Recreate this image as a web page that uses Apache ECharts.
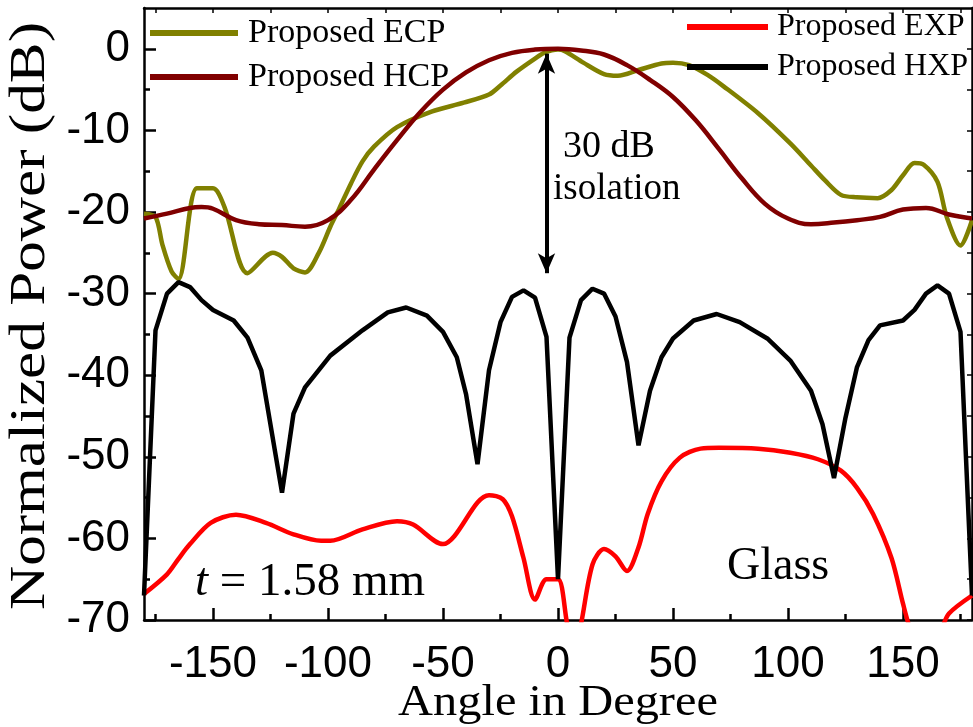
<!DOCTYPE html>
<html>
<head>
<meta charset="utf-8">
<script src="https://cdn.jsdelivr.net/npm/echarts@6/dist/echarts.min.js"></script>
<style>
  html, body { margin: 0; padding: 0; background: #fff; }
  #chart { width: 973px; height: 727px; }
</style>
</head>
<body>
<div id="chart"></div>
<script>
// angles (deg) and normalized power (dB)
const ecpAngle = [-180, -175, -172, -168, -165, -157, -150, -145, -135, -124, -120, -115, -110, -104, -99, -95, -90, -85, -80, -70, -55, -41, -30, -25, -18, -10, -6, 0, 3, 11, 20, 26, 35, 45, 50, 57, 65, 72, 87, 101, 110, 116, 123, 130, 139, 145, 150, 155, 159, 165, 169, 175, 180];
const ecpPower = [-20.2, -20.6, -24, -27.3, -28.2, -17.1, -17.1, -19.4, -27.5, -25, -25.5, -26.9, -27.4, -25, -21.8, -19.5, -16.5, -13.8, -12.0, -9.6, -7.7, -6.6, -5.6, -4.5, -2.8, -1.2, -0.5, -0.1, -0.3, -1.7, -3.1, -3.3, -2.6, -1.8, -1.7, -2.0, -3.2, -4.6, -7.9, -11.6, -14.3, -16.1, -17.9, -18.2, -18.3, -17.3, -15.5, -14.0, -14.2, -16.3, -20.6, -24.1, -21];

const hcpAngle = [-180, -170, -160, -155, -150, -140, -130, -120, -110, -100, -90, -80, -70, -60, -50, -40, -30, -20, -10, 0, 10, 20, 30, 40, 50, 60, 70, 80, 90, 100, 110, 120, 130, 140, 150, 160, 170, 180];
const hcpPower = [-20.8, -20.2, -19.5, -19.4, -19.6, -21.0, -21.5, -21.6, -21.8, -21.0, -18.5, -14.8, -11.2, -7.8, -5.0, -2.9, -1.4, -0.5, -0.1, 0, -0.2, -0.7, -2.0, -3.8, -5.9, -8.8, -12.3, -15.9, -19.0, -20.8, -21.5, -21.3, -21.0, -20.6, -19.7, -19.5, -20.3, -20.8];

const expAngle = [-180, -170, -165, -160, -151, -140, -127, -115, -103, -99, -85, -70, -63, -50, -45, -35, -30, -24, -20, -15, -10, -5, 0, 4, 7, 10, 15, 20, 25, 30, 35, 39, 45, 53, 62, 70, 87, 101, 113, 123, 130, 137, 145, 150, 153, 160, 167, 170, 180];
const expPower = [-66.8, -64.4, -62.5, -60.7, -58.1, -57.1, -58.1, -59.5, -60.3, -60.3, -58.9, -57.9, -58.3, -60.7, -59.7, -55.6, -54.7, -55.2, -57.3, -62.4, -67.5, -65, -65, -70.5, -74, -70.5, -63.2, -61.3, -62.2, -64, -61.1, -57, -53, -50.1, -49, -48.9, -49, -49.5, -50.3, -51.7, -53.8, -57, -62.4, -68, -71, -76, -71, -69.2, -67];

const hxpAngle = [-180, -175, -170, -165, -160, -155, -150, -141, -135, -129, -120, -115, -110, -99, -85, -74, -66, -57, -50, -44, -40, -35, -30, -25, -20, -15, -10, -5, 0, 5, 10, 15, 20, 25, 30, 35, 40, 45, 50, 59, 69, 79, 91, 101, 110, 115, 120, 125, 130, 135, 140, 150, 155, 160, 165, 170, 175, 180];
const hxpPower = [-67, -34.5, -30, -28.6, -29.2, -30.8, -32, -33.3, -35.4, -39.4, -54.4, -44.7, -41.5, -37.6, -34.5, -32.3, -31.7, -32.7, -34.7, -37.8, -42.3, -50.9, -39.4, -33.5, -30.4, -29.6, -30.5, -35.3, -65, -35.4, -30.8, -29.4, -30, -32.8, -38.4, -48.6, -41.9, -37.8, -35.5, -33.3, -32.5, -33.5, -35.5, -38.2, -41.9, -46, -52.6, -45.2, -39, -35.7, -33.9, -33.3, -32, -30, -29, -30, -34.7, -67];

// tick positions
const xMajor = [-150, -100, -50, 0, 50, 100, 150];
const xMinor = [-175, -125, -75, -25, 25, 75, 125, 175];
const yMajor = [-70, -60, -50, -40, -30, -20, -10, 0];
const yMinor = [-65, -55, -45, -35, -25, -15, -5];

// 30 dB isolation arrow, in data units
const arrowAngle = -5;
const arrowTop = -0.6;
const arrowBottom = -27.5;

const pair = (a, b) => a.map((v, i) => [v, b[i]]);

const serif = "'Liberation Serif', 'Times New Roman', serif";
const sans = "'Liberation Sans', Arial, sans-serif";

const myChart = echarts.init(document.getElementById('chart'));

const xBase = { type: 'value', min: -180, max: 180, splitLine: { show: false } };
const yBase = { type: 'value', min: -70, max: 5, splitLine: { show: false } };
const axisLine = { show: true, onZero: false, lineStyle: { color: '#000', width: 2.5 } };
const noLine = { show: false, onZero: false };

const option = {
  animation: false,
  backgroundColor: '#fff',
  grid: { left: 144, right: 1, top: 8, bottom: 107, containLabel: false, outerBoundsMode: 'none' },
  xAxis: [
    {
      ...xBase, position: 'bottom',
      axisLine: axisLine,
      axisTick: { show: true, inside: true, length: 12, customValues: xMajor, lineStyle: { color: '#000', width: 2.5 } },
      axisLabel: { customValues: xMajor, fontFamily: sans, fontSize: 44, color: '#000', margin: 23 }
    },
    {
      ...xBase, position: 'bottom',
      axisLine: noLine,
      axisTick: { show: true, inside: true, length: 6, customValues: xMinor, lineStyle: { color: '#000', width: 2.5 } },
      axisLabel: { show: false }
    },
    {
      ...xBase, position: 'top',
      axisLine: axisLine,
      axisTick: { show: true, inside: true, length: 5, customValues: xMajor.concat(xMinor), lineStyle: { color: '#000', width: 1.5 } },
      axisLabel: { show: false }
    }
  ],
  yAxis: [
    {
      ...yBase, position: 'left',
      axisLine: axisLine,
      axisTick: { show: true, inside: true, length: 12, customValues: yMajor, lineStyle: { color: '#000', width: 2.5 } },
      axisLabel: { customValues: yMajor, fontFamily: sans, fontSize: 44, color: '#000', margin: 14 }
    },
    {
      ...yBase, position: 'left',
      axisLine: noLine,
      axisTick: { show: true, inside: true, length: 6, customValues: yMinor, lineStyle: { color: '#000', width: 2.5 } },
      axisLabel: { show: false }
    },
    {
      ...yBase, position: 'right',
      axisLine: axisLine,
      axisTick: { show: true, inside: true, length: 5, customValues: yMajor.concat(yMinor), lineStyle: { color: '#000', width: 1.5 } },
      axisLabel: { show: false }
    }
  ],
  legend: [
    {
      orient: 'vertical', left: 150, top: 16, padding: 0, itemGap: 10,
      itemWidth: 88, itemHeight: 6, icon: 'rect',
      textStyle: { fontFamily: serif, fontSize: 34, color: '#000', padding: [0, 0, 0, 5] },
      data: ['Proposed ECP', 'Proposed HCP']
    },
    {
      orient: 'vertical', left: 687, top: 11, padding: 0, itemGap: 8,
      itemWidth: 81, itemHeight: 6, icon: 'rect',
      textStyle: { fontFamily: serif, fontSize: 32, color: '#000', padding: [0, 0, 0, 4] },
      data: ['Proposed EXP', 'Proposed HXP']
    }
  ],
  series: [
    {
      name: 'Proposed ECP', type: 'line', symbol: 'none', smooth: 0.3,
      color: '#808000', lineStyle: { width: 4.5 },
      data: pair(ecpAngle, ecpPower)
    },
    {
      name: 'Proposed HCP', type: 'line', symbol: 'none', smooth: 0.4,
      color: '#800000', lineStyle: { width: 4.5 },
      data: pair(hcpAngle, hcpPower)
    },
    {
      name: 'Proposed EXP', type: 'line', symbol: 'none', smooth: 0.3,
      color: '#ff0000', lineStyle: { width: 4.5 },
      data: pair(expAngle, expPower)
    },
    {
      name: 'Proposed HXP', type: 'line', symbol: 'none',
      color: '#000000', lineStyle: { width: 4.5 },
      data: pair(hxpAngle, hxpPower),
      markLine: {
        silent: true,
        symbol: ['arrow', 'arrow'],
        symbolSize: [13, 20],
        label: { show: false },
        lineStyle: { color: '#000', width: 4, type: 'solid' },
        data: [[{ coord: [arrowAngle, arrowTop] }, { coord: [arrowAngle, arrowBottom] }]]
      }
    }
  ],
  graphic: [
    // axis titles, slightly widened like the original's serif face
    {
      type: 'text', x: 558, y: 703, scaleX: 1.1,
      style: { text: 'Angle in Degree', fontFamily: serif, fontSize: 44, fill: '#000', align: 'center', verticalAlign: 'middle' }
    },
    {
      type: 'text', x: 31, y: 316, rotation: Math.PI / 2, scaleX: 1.2,
      style: { text: 'Normalized Power (dB)', fontFamily: serif, fontSize: 51, fill: '#000', align: 'center', verticalAlign: 'middle' }
    },
    { type: 'text', left: 563, top: 128, style: { text: '30 dB', fontFamily: serif, fontSize: 38, fill: '#000' } },
    { type: 'text', left: 553, top: 171, style: { text: 'isolation', fontFamily: serif, fontSize: 37, fill: '#000' } },
    {
      type: 'text', left: 195, top: 559,
      style: {
        text: '{i|t} = 1.58 mm', fontFamily: serif, fontSize: 47, fill: '#000',
        rich: { i: { fontFamily: serif, fontSize: 47, fontStyle: 'italic', fill: '#000' } }
      }
    },
    { type: 'text', left: 727, top: 544, style: { text: 'Glass', fontFamily: serif, fontSize: 46, fill: '#000' } }
  ]
};

myChart.setOption(option);
</script>
</body>
</html>
